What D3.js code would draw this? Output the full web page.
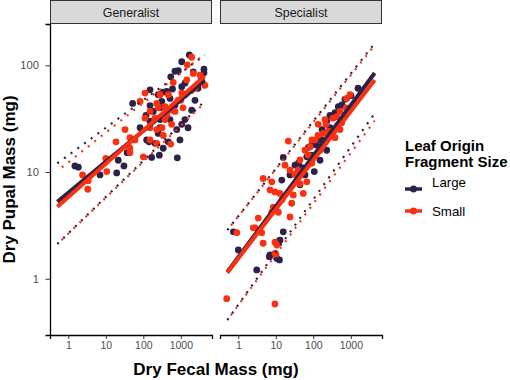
<!DOCTYPE html>
<html>
<head>
<meta charset="utf-8">
<script src="https://cdn.jsdelivr.net/npm/d3@7"></script>
<style>
  body { margin: 0; background: #fff; }
  svg { font-family: "Liberation Sans", Arial, sans-serif; }
</style>
</head>
<body>
<svg id="chart" width="510" height="380"></svg>
<script>
// facets, groups, ticks
const panels = ["Generalist", "Specialist"];
const groups = ["Large", "Small"];
const colors = ["#2D2148", "#FA3010"];
const xTicks = [1, 10, 100, 1000];
const yTicks = [1, 10, 100];
const lineRange = [0.51, 4330];

// [fecal mg, pupal mg]
const genLarge = [
  [1690, 125], [1060, 108], [4150, 92], [4150, 85], [860, 89], [540, 78], [1290, 68],
  [1060, 63], [420, 57], [250, 53], [52, 44], [310, 46], [515, 49], [1950, 38],
  [118, 34], [185, 37], [151, 30], [280, 31], [420, 32], [1060, 28], [780, 25],
  [250, 23], [123, 20], [205, 18.6], [464, 19.2], [340, 16.7], [2150, 87], [1.5, 11.4],
  [1.85, 11.1], [21.5, 12.9], [30.5, 11.4], [19.5, 9.8], [7.0, 9.4], [37, 15.2],
  [142, 19.2], [167, 13.7], [267, 14.4], [807, 13.6], [280, 40], [600, 60], [151, 42],
  [330, 56], [1290, 53], [700, 88], [3500, 73], [700, 42.5], [1290, 31], [2390, 47],
  [279, 26], [82, 26], [515, 31], [950, 20], [2880, 61], [151, 59], [1560, 26]
];
const genSmall = [
  [1950, 119], [1490, 101], [2150, 84], [4400, 65], [630, 69], [111, 55], [82, 46],
  [228, 44], [380, 41], [700, 37], [420, 34], [151, 26], [228, 25], [570, 28], [340, 22],
  [18.7, 19.2], [44, 21], [151, 20], [228, 18.6], [44, 16.7], [1060, 55], [1440, 73],
  [2.4, 9.4], [3.4, 8.3], [3.3, 6.9], [10.6, 10.1], [10, 13.4], [44, 15.2], [40, 17.5],
  [100, 13.9], [538, 18.3], [280, 53], [515, 38], [1000, 47], [205, 32], [1900, 58],
  [151, 37], [380, 31], [840, 47], [1145, 40], [464, 53], [251, 40], [111, 32],
  [3250, 81], [315, 26], [32.5, 25], [60, 20], [2390, 61]
];
const speLarge = [
  [1010, 52], [464, 41], [228, 30], [167, 20], [123, 17.9], [91, 17.9], [15.8, 13.7],
  [44, 10.4], [36, 9.7], [14.4, 8.4], [151, 12.9], [228, 16], [74, 17], [106, 10.1],
  [0.74, 2.75], [15.8, 2.75], [12.9, 2.3], [1.0, 1.86], [7.0, 1.67], [10.6, 1.55],
  [3.1, 1.21], [6.7, 1.61], [12.5, 1.5], [12.2, 2.25], [67, 13.9], [40, 12.1],
  [50, 11], [60, 9.4], [379, 36], [700, 48], [279, 26], [135, 20], [32.5, 11.6],
  [23.9, 9.4], [279, 34], [580, 42.5], [171, 25], [92, 14.4], [1560, 61], [44, 7.6]
];
const speSmall = [
  [778, 49], [750, 40], [21.5, 19.5], [421, 33], [251, 24], [515, 25], [185, 23],
  [379, 21], [571, 29], [515, 37], [82, 17.3], [74, 14.4], [4.6, 8.7], [7.8, 8.1],
  [9.5, 6.5], [12.9, 6.3], [54, 6.3], [67, 8.1], [26.5, 5.1], [8.6, 4.7], [11.7, 4.2],
  [23.9, 3.8], [3.4, 3.7], [2.8, 3.0], [0.91, 2.7], [4.2, 2.7], [9.5, 2.2], [4.6, 2.15],
  [9.5, 1.73], [23.9, 10.4], [44, 7.8], [91, 12.1], [10.1, 1.7], [0.49, 0.65],
  [9.5, 0.58], [29.3, 6.1], [10.6, 2.07], [2.5, 3.0], [7.8, 4.2], [279, 24],
  [135, 28], [205, 31], [92, 20], [44, 13], [32, 9.5], [111, 20], [151, 16],
  [218, 28], [335, 32], [950, 53], [39, 10.4], [60, 16], [17.6, 11.6], [14.6, 5.5],
  [7, 6.8], [133, 22]
];
const points = [[genLarge, genSmall], [speLarge, speSmall]];

// log10(pupal) = a + b * log10(fecal): [a, b] for fit, lower, upper
const genLargeFit = [[0.807, 0.290], [0.425, 0.341], [1.157, 0.258]];
const genSmallFit = [[0.766, 0.312], [0.423, 0.337], [1.091, 0.279]];
const speLargeFit = [[0.202, 0.4748], [-0.243, 0.493], [0.586, 0.4455]];
const speSmallFit = [[0.190, 0.460], [-0.248, 0.4756], [0.585, 0.441]];
const fits = [[genLargeFit, genSmallFit], [speLargeFit, speSmallFit]];

const svg = d3.select("#chart");
const panelW = 162, gap = 8, padLeft = 50, padTop = 24, padBottom = 335;

const x = d3.scaleLog().domain([0.325, 6790]).range([0, panelW]);
const y = d3.scaleLog().domain([0.297, 244]).range([padBottom, padTop]);

panels.forEach((name, p) => {
  const x0 = padLeft + p * (panelW + gap);
  const g = svg.append("g").attr("transform", `translate(${x0},0)`);

  // strip
  g.append("rect")
    .attr("x", 0.5).attr("y", 0.5)
    .attr("width", panelW - 1).attr("height", padTop - 1)
    .attr("fill", "#D9D9D9").attr("stroke", "#333").attr("stroke-width", 1);
  g.append("text")
    .attr("x", panelW / 2).attr("y", 16.5)
    .attr("text-anchor", "middle")
    .attr("font-size", 12.4).attr("fill", "#1A1A1A")
    .text(name);

  // points
  groups.forEach((grp, k) => {
    g.append("g").selectAll("circle")
      .data(points[p][k])
      .join("circle")
      .attr("cx", d => x(d[0]))
      .attr("cy", d => y(d[1]))
      .attr("r", 3.4)
      .attr("fill", colors[k]);
  });

  // dotted bounds then fit lines
  const line = d3.line().x(d => x(d[0])).y(d => y(d[1]));
  const ends = (c) => lineRange.map(v => [v, Math.pow(10, c[0] + c[1] * Math.log10(v))]);
  groups.forEach((grp, k) => {
    [1, 2].forEach(j => {
      g.append("path")
        .attr("d", line(ends(fits[p][k][j])))
        .attr("fill", "none")
        .attr("stroke", colors[k])
        .attr("stroke-width", 2.2)
        .attr("stroke-dasharray", "2,6.3")
        .attr("stroke-dashoffset", k === 0 ? 0 : 2.5);
    });
  });
  groups.forEach((grp, k) => {
    g.append("path")
      .attr("d", line(ends(fits[p][k][0])))
      .attr("fill", "none")
      .attr("stroke", colors[k])
      .attr("stroke-width", 4);
  });

  // x axis
  const xa = g.append("g")
    .attr("transform", `translate(0,${padBottom})`)
    .call(d3.axisBottom(x).tickValues(xTicks).tickFormat(d3.format("d")).tickSizeOuter(0).tickSize(4).tickPadding(3));
  xa.select(".domain").attr("stroke", "#000").attr("stroke-width", 1.3);
  xa.selectAll(".tick line").attr("stroke", "#333");
  xa.selectAll(".tick text").attr("fill", "#4D4D4D").attr("font-size", 10.5).attr("font-family", null);

  if (p === 0) {
    const ya = g.append("g")
      .call(d3.axisLeft(y).tickValues(yTicks).tickFormat(d3.format("d")).tickSizeOuter(0).tickSize(4.5).tickPadding(6.5));
    ya.select(".domain").attr("stroke", "#000").attr("stroke-width", 1.3);
    ya.selectAll(".tick line").attr("stroke", "#333");
    ya.selectAll(".tick text").attr("fill", "#4D4D4D").attr("font-size", 11.2).attr("font-family", null);
  }
});

// axis titles
svg.append("text")
  .attr("x", padLeft + panelW + gap / 2).attr("y", 375)
  .attr("text-anchor", "middle")
  .attr("font-size", 17).attr("font-weight", "bold")
  .text("Dry Fecal Mass (mg)");
svg.append("text")
  .attr("transform", `translate(15,${(padTop + padBottom) / 2}) rotate(-90)`)
  .attr("text-anchor", "middle")
  .attr("font-size", 17).attr("font-weight", "bold")
  .text("Dry Pupal Mass (mg)");

// legend
const lg = svg.append("g").attr("transform", "translate(405,0)");
lg.append("text").attr("x", 0).attr("y", 151)
  .attr("font-size", 15).attr("font-weight", "bold").text("Leaf Origin");
lg.append("text").attr("x", 0).attr("y", 167)
  .attr("font-size", 15).attr("font-weight", "bold").text("Fragment Size");
const keyY = [189, 211];
const textY = [187, 216];
groups.forEach((grp, k) => {
  lg.append("line")
    .attr("x1", 0).attr("x2", 17)
    .attr("y1", keyY[k]).attr("y2", keyY[k])
    .attr("stroke", colors[k]).attr("stroke-width", 3.5);
  lg.append("circle")
    .attr("cx", 8.5).attr("cy", keyY[k]).attr("r", 3.4)
    .attr("fill", colors[k]);
  lg.append("text").attr("x", 27).attr("y", textY[k])
    .attr("font-size", 13.3).text(grp);
});
</script>
</body>
</html>
